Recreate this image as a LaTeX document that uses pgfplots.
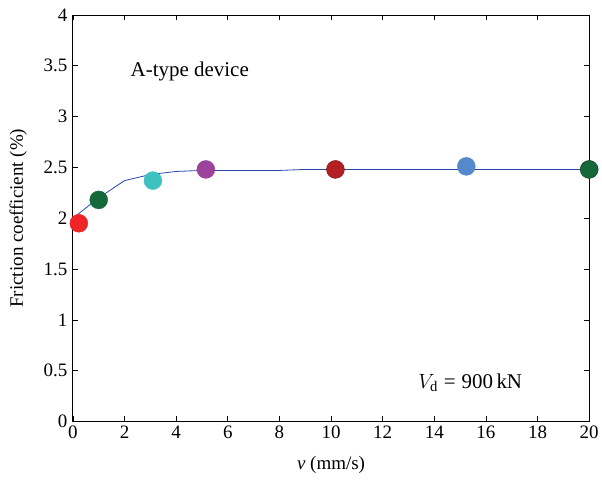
\documentclass[border=0pt]{standalone}
\usepackage{pgfplots}
\pgfplotsset{compat=1.18}
\usepackage{fontspec}
\setmainfont{Liberation Serif}
\definecolor{cRed}{HTML}{EE2427}
\definecolor{cDkGreen}{HTML}{15683A}
\definecolor{cCyan}{HTML}{3EC1C1}
\definecolor{cPurple}{HTML}{9C449B}
\definecolor{cDkRed}{HTML}{B22024}
\definecolor{cBlue}{HTML}{5589CB}
\definecolor{cLine}{HTML}{2747A8}
\begin{document}
\begin{tikzpicture}
\begin{axis}[
  scale only axis,
  width=517bp, height=407bp,
  xmin=0, xmax=20, ymin=0, ymax=4,
  xtick={0,2,...,20},
  ytick={0,0.5,...,4},
  yticklabels={0,0.5,1,1.5,2,2.5,3,3.5,4},
  tick align=inside,
  major tick length=5bp,
  tick style={black, line width=0.6pt},
  axis line style={line width=0.9pt},
  font=\fontsize{19bp}{22bp}\selectfont,
  /pgf/number format/assume math mode=true,
  xticklabel style={yshift=-1bp},
  yticklabel style={xshift=-2bp},
  xlabel={\textit{v} (mm/s)},
  ylabel={Friction coefficient (\%)},
  xlabel style={at={(axis description cs:0.5,-0.108)}, anchor=center},
  ylabel style={at={(axis description cs:-0.106,0.5)}, anchor=center},
  clip=false,
]
\addplot[cLine, line width=0.8pt] coordinates {
  (0,2.0) (1,2.2) (2,2.37) (3,2.43) (4,2.46) (5,2.47) (6,2.47) (8,2.47) (9,2.48) (20,2.48)
};
\addplot[only marks, mark=*, mark size=9bp, color=cRed] coordinates {(0.23,1.95)};
\addplot[only marks, mark=*, mark size=9bp, color=cDkGreen] coordinates {(1.0,2.18)};
\addplot[only marks, mark=*, mark size=9bp, color=cCyan] coordinates {(3.1,2.37)};
\addplot[only marks, mark=*, mark size=9bp, color=cPurple] coordinates {(5.15,2.48)};
\addplot[only marks, mark=*, mark size=9bp, color=cDkRed, mark options={draw=cDkRed!70!black}] coordinates {(10.17,2.48)};
\addplot[only marks, mark=*, mark size=9bp, color=cBlue] coordinates {(15.24,2.51)};
\addplot[only marks, mark=*, mark size=9bp, color=cDkGreen, mark options={draw=cDkGreen!50!black}] coordinates {(20,2.48)};
\node[anchor=west, font=\fontsize{21bp}{24bp}\selectfont] at (axis cs:2.1,3.44) {A-type device};
\node[anchor=west, font=\fontsize{21bp}{24bp}\selectfont] at (axis cs:13.25,0.38) {$V_{\mathrm{d}}$\;=\;900\,kN};
\end{axis}
\useasboundingbox ([xshift=-73bp,yshift=-62bp]current axis.south west) rectangle ([xshift=12bp,yshift=15bp]current axis.north east);
\end{tikzpicture}
\end{document}
